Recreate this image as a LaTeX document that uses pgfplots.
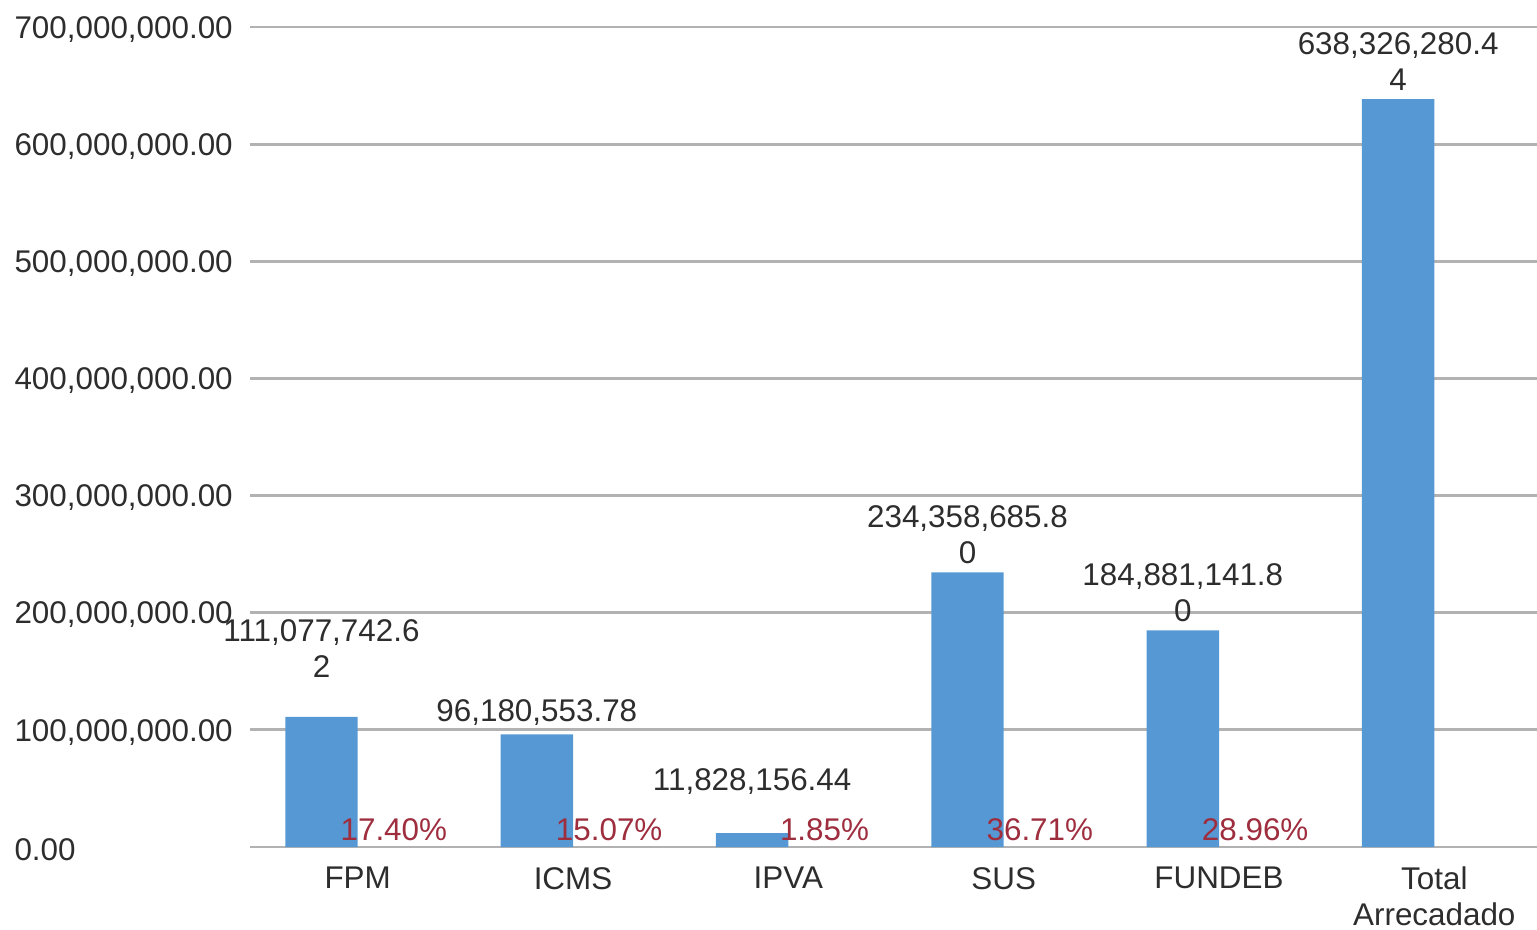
\documentclass[border=0pt]{standalone}
\usepackage{fontspec}
\setmainfont{Liberation Sans}
\usepackage{pgfplots}
\pgfplotsset{compat=1.18}
\definecolor{barblue}{RGB}{86,152,212}
\definecolor{pctred}{RGB}{158,45,62}
\definecolor{txt}{RGB}{45,45,45}
\definecolor{gridgray}{RGB}{178,178,178}
\begin{document}
\begin{tikzpicture}
\begin{axis}[
  scale only axis,
  width=465.12pt, height=295.2pt,
  xmin=-0.5, xmax=5.5,
  ymin=0, ymax=700000000,
  scaled y ticks=false,
  axis line style={draw=none},
  major tick style={draw=none},
  ymajorgrids=true,
  grid style={gridgray, line width=1pt},
  ytick={0,100000000,200000000,300000000,400000000,500000000,600000000,700000000},
  yticklabels={{0.00},{100,000,000.00},{200,000,000.00},{300,000,000.00},{400,000,000.00},{500,000,000.00},{600,000,000.00},{700,000,000.00}},
  yticklabel style={anchor=west, xshift=-88.3pt, yshift=-0.8pt, font=\fontsize{11.3}{13}\selectfont, text=txt},
  xtick={0,1,2,3,4,5},
  xticklabels={FPM,ICMS,IPVA,SUS,FUNDEB,{Total\\Arrecadado}},
  xticklabel style={anchor=north, align=center, yshift=-3.7pt, font=\fontsize{11.3}{12.8}\selectfont, text=txt},
  clip=false,
]
% bars
\addplot[ybar, bar width=0.336, bar shift=-0.168, fill=barblue, draw=none]
  coordinates {(0,111077742.62) (1,96180553.78) (2,11828156.44) (3,234358685.80) (4,184881141.80) (5,638326280.44)};
% value labels (normal placement)
\addplot[draw=none, mark=none,
  nodes near coords, point meta=explicit symbolic,
  every node near coord/.append style={anchor=south, align=center, inner sep=0pt, yshift=3pt, text=txt, font=\fontsize{11.3}{13}\selectfont}]
  coordinates {(0.832,96180553.78) [{96,180,553.78}]
               (2.832,234358685.80) [{234,358,685.8\\0}]
               (3.832,184881141.80) [{184,881,141.8\\0}]
               (4.832,638326280.44) [{638,326,280.4\\4}]};
% value labels (raised)
\addplot[draw=none, mark=none,
  nodes near coords, point meta=explicit symbolic,
  every node near coord/.append style={anchor=south, align=center, inner sep=0pt, yshift=13.8pt, text=txt, font=\fontsize{11.3}{13}\selectfont}]
  coordinates {(-0.168,111077742.62) [{111,077,742.6\\2}]
               (1.832,11828156.44) [{11,828,156.44}]};
% percentage labels
\addplot[draw=none, mark=none,
  nodes near coords, point meta=explicit symbolic,
  every node near coord/.append style={anchor=base, inner sep=0pt, yshift=2.5pt, text=pctred, font=\fontsize{11.3}{13}\selectfont}]
  coordinates {(0.168,0) [17.40\%] (1.168,0) [15.07\%] (2.168,0) [1.85\%] (3.168,0) [36.71\%] (4.168,0) [28.96\%]};
\end{axis}
\pgfresetboundingbox
\path[use as bounding box] (-90pt,-29.52pt) rectangle (463.32pt,304.92pt);
\end{tikzpicture}
\end{document}
